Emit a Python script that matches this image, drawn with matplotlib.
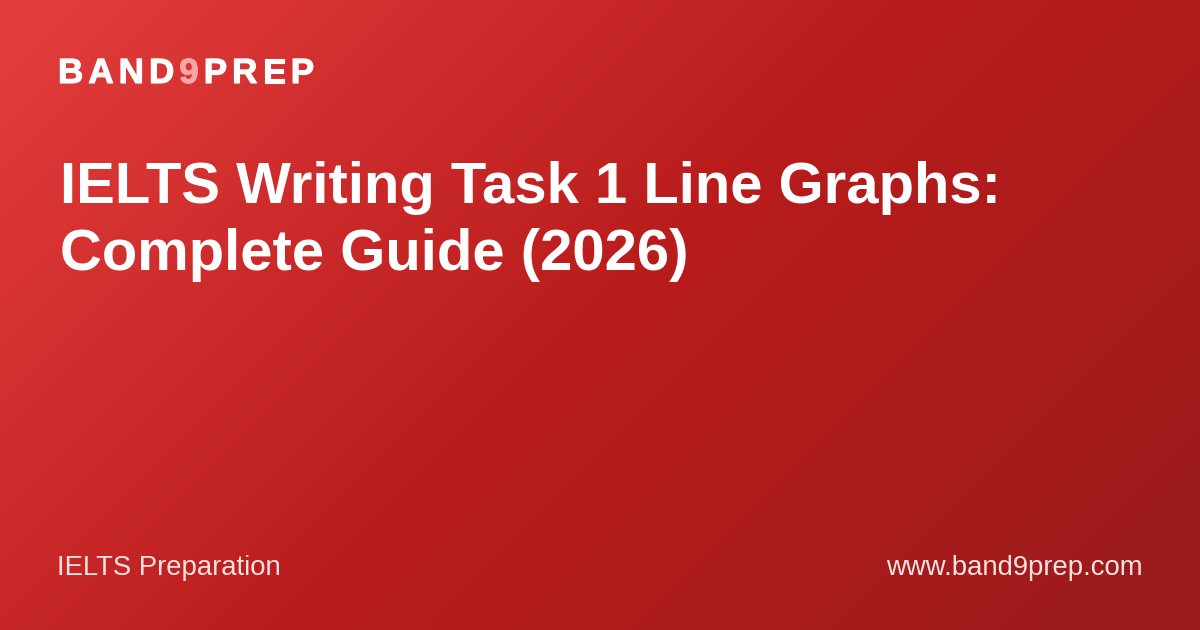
import matplotlib
matplotlib.use("Agg")
import matplotlib.pyplot as plt
import matplotlib.patheffects as pe
import numpy as np
from matplotlib.colors import LinearSegmentedColormap

W, H = 1200, 630

brand_parts = [("BAND", "#ffffff"), ("9", "#fca5a5"), ("PREP", "#ffffff")]
title_lines = ["IELTS Writing Task 1 Line Graphs:", "Complete Guide (2026)"]
footer_left = "IELTS Preparation"
footer_right = "www.band9prep.com"
grad_colors = ["#e53e3e", "#b91c1c", "#991b1b"]

plt.rcParams['font.family'] = ['Liberation Sans', 'DejaVu Sans']

fig = plt.figure(figsize=(W / 100, H / 100), dpi=100)
ax = fig.add_axes([0, 0, 1, 1])
ax.set_xlim(0, W)
ax.set_ylim(H, 0)
ax.axis('off')

# 135deg background gradient
xx, yy = np.meshgrid(np.arange(W) + 0.5, np.arange(H) + 0.5)
t = ((xx - W / 2) + (yy - H / 2)) / (W + H) + 0.5
cmap = LinearSegmentedColormap.from_list('bg', list(zip([0, 0.5, 1], grad_colors)))
ax.imshow(t, cmap=cmap, vmin=0, vmax=1, extent=[0, W, H, 0], aspect='auto', interpolation='bilinear')

def px(s):
    return s * 0.72

# logo with letter spacing
fig.canvas.draw()
renderer = fig.canvas.get_renderer()
x = 58
spacing = 5
for part, col in brand_parts:
    for ch in part:
        txt = ax.text(x, 83, ch, color=col, fontsize=px(35), fontweight='bold', va='baseline', ha='left',
                      path_effects=[pe.withStroke(linewidth=0.8, foreground=col)])
        bb = txt.get_window_extent(renderer)
        x += bb.width + spacing

ax.text(60, 203, title_lines[0], color='white', fontsize=px(58), fontweight='bold', va='baseline', ha='left')
ax.text(60, 270, title_lines[1], color='white', fontsize=px(58), fontweight='bold', va='baseline', ha='left')

ax.text(57, 575, footer_left, color='#fde2e2', fontsize=px(27.5), va='baseline', ha='left')
ax.text(1143, 575, footer_right, color='#fde2e2', fontsize=px(27.5), va='baseline', ha='right')

fig.savefig('out.png', dpi=100)
